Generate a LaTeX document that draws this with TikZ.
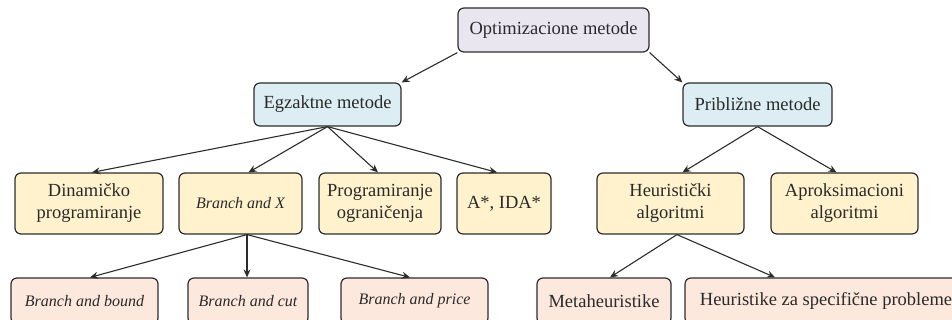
\documentclass[tikz,border=0pt]{standalone}
\usepackage{fontspec}
\setmainfont{Liberation Serif}
\usetikzlibrary{arrows.meta}
\definecolor{oedge}{HTML}{2C2C2C}
\definecolor{otext}{HTML}{2A2A2A}
\definecolor{otop}{HTML}{EAE6F0}
\definecolor{omid}{HTML}{DCEEF3}
\definecolor{oleaf}{HTML}{FFF2CC}
\definecolor{olow}{HTML}{FCE8DC}

\begin{document}
\begin{tikzpicture}[x=1pt,y=-1pt,
  font=\fontsize{18.5}{22}\selectfont,
  box/.style={draw=oedge,line width=1.2pt,rounded corners=6pt,align=center,
              inner sep=0pt,text=otext},
  top/.style={box,fill=otop,minimum height=44pt},
  mid/.style={box,fill=omid,minimum height=43pt},
  leaf/.style={box,fill=oleaf,minimum height=61pt},
  low/.style={box,fill=olow,minimum height=46pt},
  it/.style={font=\fontsize{16}{20}\selectfont\itshape},
  arr/.style={-{Stealth[length=8pt,width=7pt]},line width=1.1pt,draw=oedge}]

  \useasboundingbox (0,0) rectangle (952,320);

  \node[top,minimum width=191pt] (opt) at (553.5,30) {Optimizacione metode};

  \node[mid,minimum width=147pt] (egz) at (327.5,104.5) {Egzaktne metode};
  \node[mid,minimum width=149pt] (pri) at (757.5,104.5) {Približne metode};

  \node[leaf,minimum width=148pt] (din) at (89,203.5) {Dinamičko\\programiranje};
  \node[leaf,it,minimum width=123pt] (bx) at (240.5,203.5) {Branch and X};
  \node[leaf,minimum width=122pt] (prog) at (380,203.5) {Programiranje\\ograničenja};
  \node[leaf,minimum width=94pt] (astar) at (504,203.5) {A*, IDA*};
  \node[leaf,minimum width=147pt] (heur) at (670.5,203.5) {Heuristički\\algoritmi};
  \node[leaf,minimum width=147pt] (aprok) at (844.5,203.5) {Aproksimacioni\\algoritmi};

  \node[low,it,minimum width=147pt] (bnb) at (84.5,301) {Branch and bound};
  \node[low,it,minimum width=120pt] (cut) at (248,301) {Branch and cut};
  \node[low,it,minimum width=147pt] (price) at (414.5,301) {Branch and price};
  \node[low,minimum width=134pt] (meta) at (604,301) {Metaheuristike};
  \node[low,minimum width=282pt] (spec) at (826,301) {Heuristike za specifične probleme};

  % top level
  \draw[arr] (opt.south west) -- (egz.north east);
  \draw[arr] (opt.south east) -- (pri.north west);

  % egzaktne
  \draw[arr] (egz.south) -- ([xshift=3pt]din.north);
  \draw[arr] (egz.south) -- ([xshift=8pt]bx.north);
  \draw[arr] (egz.south) -- ([xshift=-2pt]prog.north);
  \draw[arr] (egz.south) -- ([xshift=-7pt]astar.north);

  % priblizne
  \draw[arr] (pri.south) -- ([xshift=12pt]heur.north);
  \draw[arr] (pri.south) -- ([xshift=-8pt]aprok.north);

  % branch and X
  \draw[arr] ([xshift=6.5pt]bx.south) -- ([xshift=5.5pt]bnb.north);
  \draw[arr] ([xshift=6.5pt]bx.south) -- ([xshift=-1pt]cut.north);
  \draw[arr] ([xshift=6.5pt]bx.south) -- ([xshift=-4.5pt]price.north);

  % heuristicki
  \draw[arr] ([xshift=6.5pt]heur.south) -- ([xshift=6pt]meta.north);
  \draw[arr] ([xshift=6.5pt]heur.south) -- ([xshift=-51pt]spec.north);
\end{tikzpicture}
\end{document}
